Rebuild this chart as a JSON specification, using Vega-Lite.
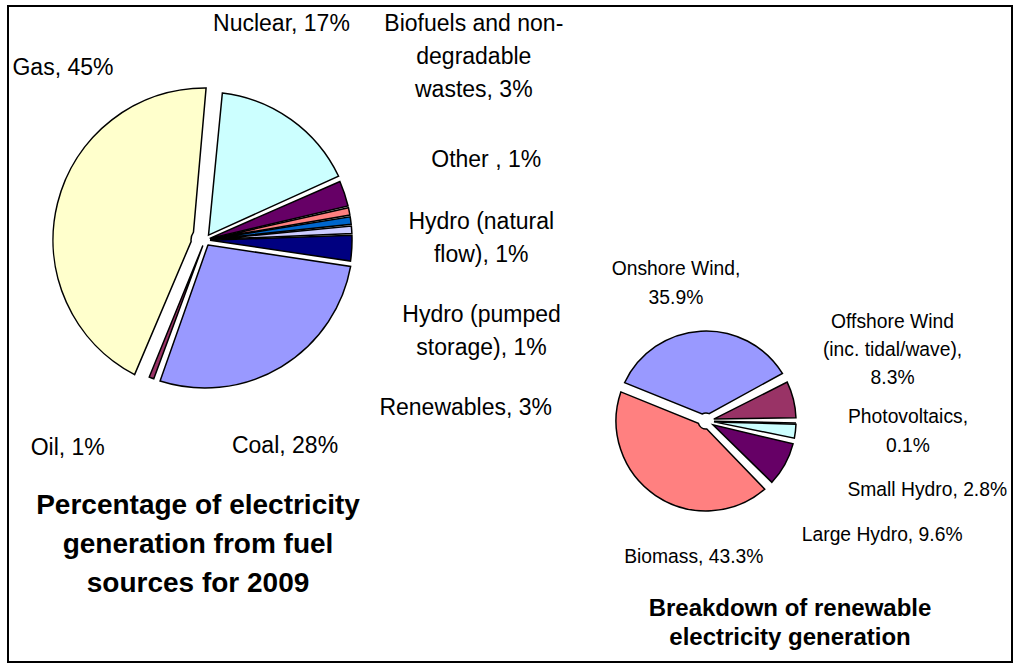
{
  "$schema": "https://vega.github.io/schema/vega-lite/v6.json",
  "width": 1004,
  "height": 656,
  "autosize": {"type": "none"},
  "padding": {"left": 8, "top": 6, "right": 6, "bottom": 6},
  "background": "white",
  "config": {
    "view": {"stroke": "black", "strokeWidth": 2},
    "font": "Liberation Sans",
    "text": {"font": "Liberation Sans", "fill": "black", "align": "center", "baseline": "middle", "lineBreak": "\n"}
  },
  "datasets": {
    "slices": [
      {"chart": "fuel", "idx": 1, "name": "Nuclear", "value": 17, "label": "Nuclear, 17%"},
      {"chart": "fuel", "idx": 2, "name": "Biofuels", "value": 3, "label": "Biofuels and non-\ndegradable\nwastes, 3%"},
      {"chart": "fuel", "idx": 3, "name": "Other", "value": 1, "label": "Other , 1%"},
      {"chart": "fuel", "idx": 4, "name": "Hydro natural", "value": 1, "label": "Hydro (natural\nflow), 1%"},
      {"chart": "fuel", "idx": 5, "name": "Hydro pumped", "value": 1, "label": "Hydro (pumped\nstorage), 1%"},
      {"chart": "fuel", "idx": 6, "name": "Renewables", "value": 3, "label": "Renewables, 3%"},
      {"chart": "fuel", "idx": 7, "name": "Coal", "value": 28, "label": "Coal, 28%"},
      {"chart": "fuel", "idx": 8, "name": "Oil", "value": 1, "label": "Oil, 1%"},
      {"chart": "fuel", "idx": 9, "name": "Gas", "value": 45, "label": "Gas, 45%"},
      {"chart": "renewables", "idx": 1, "name": "Onshore Wind", "value": 35.9, "label": "Onshore Wind,\n35.9%"},
      {"chart": "renewables", "idx": 2, "name": "Offshore Wind", "value": 8.3, "label": "Offshore Wind\n(inc. tidal/wave),\n8.3%"},
      {"chart": "renewables", "idx": 3, "name": "Photovoltaics", "value": 0.1, "label": "Photovoltaics,\n0.1%"},
      {"chart": "renewables", "idx": 4, "name": "Small Hydro", "value": 2.8, "label": "Small Hydro, 2.8%"},
      {"chart": "renewables", "idx": 5, "name": "Large Hydro", "value": 9.6, "label": "Large Hydro, 9.6%"},
      {"chart": "renewables", "idx": 6, "name": "Biomass", "value": 43.3, "label": "Biomass, 43.3%"}
    ],
    "titles": [
      {"chart": "fuel", "title": "Percentage of electricity\ngeneration from fuel\nsources for 2009"},
      {"chart": "renewables", "title": "Breakdown of renewable\nelectricity generation"}
    ]
  },
  "resolve": {"scale": {"theta": "independent"}},
  "layer": [
    {
      "data": {"name": "slices"},
      "transform": [{"filter": "datum.chart === 'fuel'"}],
      "encoding": {
        "x": {"field": "chart", "type": "nominal", "axis": null, "scale": {"type": "point", "domain": ["fuel", "renewables"], "padding": 0.502, "align": 0.3917}},
        "y": {"field": "chart", "type": "nominal", "axis": null, "scale": {"type": "band", "domain": ["fuel", "renewables"], "paddingInner": 0, "paddingOuter": 0.812, "align": 0.488}},
        "theta": {"field": "value", "type": "quantitative", "stack": true, "scale": {"type": "linear", "domain": [0, 100], "range": [0.0873, 6.3705]}},
        "order": {"field": "idx", "type": "quantitative"},
        "detail": {"field": "name", "type": "nominal"}
      },
      "layer": [
        {
          "mark": {"type": "arc", "radius": 148, "radius2": 6, "padAngle": 0.06, "stroke": "black", "strokeWidth": 1.5},
          "encoding": {
            "color": {"field": "name", "type": "nominal", "legend": null, "scale": {"domain": ["Nuclear", "Biofuels", "Other", "Hydro natural", "Hydro pumped", "Renewables", "Coal", "Oil", "Gas", "Onshore Wind", "Offshore Wind", "Photovoltaics", "Small Hydro", "Large Hydro", "Biomass"], "range": ["#CCFFFF", "#660066", "#FF8080", "#0066CC", "#CCCCFF", "#000080", "#9999FF", "#993366", "#FFFFCC", "#9999FF", "#993366", "#FFFFCC", "#CCFFFF", "#660066", "#FF8080"]}},
            "opacity": {"condition": {"test": "datum.name === 'Nuclear' || datum.name === 'Coal'", "value": 1}, "value": 0}
          }
        },
        {
          "mark": {"type": "arc", "radius": 147, "radius2": 5, "padAngle": 0.012, "stroke": "black", "strokeWidth": 1.5},
          "encoding": {
            "color": {"field": "name", "type": "nominal", "legend": null},
            "opacity": {"condition": {"test": "indexof(['Biofuels','Other','Hydro natural','Hydro pumped','Renewables'], datum.name) >= 0", "value": 1}, "value": 0}
          }
        },
        {
          "mark": {"type": "arc", "radius": 148, "radius2": 6, "padAngle": 0.03, "stroke": "black", "strokeWidth": 1.5},
          "encoding": {
            "color": {"field": "name", "type": "nominal", "legend": null},
            "opacity": {"condition": {"test": "datum.name === 'Oil'", "value": 1}, "value": 0}
          }
        },
        {
          "mark": {"type": "arc", "radius": 152, "radius2": 14, "padAngle": 0.16, "stroke": "black", "strokeWidth": 1.5},
          "encoding": {
            "color": {"field": "name", "type": "nominal", "legend": null},
            "opacity": {"condition": {"test": "datum.name === 'Gas'", "value": 1}, "value": 0}
          }
        },
        {"mark": {"type": "text", "radius": 200, "dx": -40, "dy": -53, "fontSize": 23}, "encoding": {"text": {"condition": {"test": "datum.name === 'Nuclear'", "field": "label"}, "value": ""}}},
        {"mark": {"type": "text", "radius": 200, "dx": 79, "dy": -153, "fontSize": 23, "lineHeight": 33}, "encoding": {"text": {"condition": {"test": "datum.name === 'Biofuels'", "field": "label"}, "value": ""}}},
        {"mark": {"type": "text", "radius": 200, "dx": 85, "dy": -41, "fontSize": 23}, "encoding": {"text": {"condition": {"test": "datum.name === 'Other'", "field": "label"}, "value": ""}}},
        {"mark": {"type": "text", "radius": 200, "dx": 78, "dy": 8.5, "fontSize": 23, "lineHeight": 33}, "encoding": {"text": {"condition": {"test": "datum.name === 'Hydro natural'", "field": "label"}, "value": ""}}},
        {"mark": {"type": "text", "radius": 200, "dx": 77, "dy": 88.5, "fontSize": 23, "lineHeight": 33}, "encoding": {"text": {"condition": {"test": "datum.name === 'Hydro pumped'", "field": "label"}, "value": ""}}},
        {"mark": {"type": "text", "radius": 200, "dx": 61, "dy": 157, "fontSize": 23}, "encoding": {"text": {"condition": {"test": "datum.name === 'Renewables'", "field": "label"}, "value": ""}}},
        {"mark": {"type": "text", "radius": 200, "dx": -23, "dy": 35, "fontSize": 23}, "encoding": {"text": {"condition": {"test": "datum.name === 'Coal'", "field": "label"}, "value": ""}}},
        {"mark": {"type": "text", "radius": 200, "dx": -65, "dy": 22, "fontSize": 23}, "encoding": {"text": {"condition": {"test": "datum.name === 'Oil'", "field": "label"}, "value": ""}}},
        {"mark": {"type": "text", "radius": 200, "dx": 52, "dy": -124, "fontSize": 23}, "encoding": {"text": {"condition": {"test": "datum.name === 'Gas'", "field": "label"}, "value": ""}}}
      ]
    },
    {
      "data": {"name": "slices"},
      "transform": [{"filter": "datum.chart === 'renewables'"}],
      "encoding": {
        "x": {"field": "chart", "type": "nominal", "axis": null},
        "y": {"field": "chart", "type": "nominal", "axis": null},
        "theta": {"field": "value", "type": "quantitative", "stack": true, "scale": {"type": "linear", "domain": [0, 100], "range": [-1.1868, 5.0964]}},
        "order": {"field": "idx", "type": "quantitative"},
        "detail": {"field": "name", "type": "nominal"}
      },
      "layer": [
        {
          "mark": {"type": "arc", "radius": 90, "radius2": 8, "padAngle": 0.11, "stroke": "black", "strokeWidth": 1.5},
          "encoding": {
            "color": {"field": "name", "type": "nominal", "legend": null},
            "opacity": {"condition": {"test": "indexof(['Onshore Wind','Offshore Wind','Large Hydro','Biomass'], datum.name) >= 0", "value": 1}, "value": 0}
          }
        },
        {
          "mark": {"type": "arc", "radius": 90, "radius2": 8, "padAngle": 0.02, "stroke": "black", "strokeWidth": 1.5},
          "encoding": {
            "color": {"field": "name", "type": "nominal", "legend": null},
            "opacity": {"condition": {"test": "indexof(['Photovoltaics','Small Hydro'], datum.name) >= 0", "value": 1}, "value": 0}
          }
        },
        {"mark": {"type": "text", "radius": 120, "dx": -23, "dy": -32.5, "fontSize": 19.3, "lineHeight": 29}, "encoding": {"text": {"condition": {"test": "datum.name === 'Onshore Wind'", "field": "label"}, "value": ""}}},
        {"mark": {"type": "text", "radius": 120, "dx": 70, "dy": -70, "fontSize": 19.3, "lineHeight": 28}, "encoding": {"text": {"condition": {"test": "datum.name === 'Offshore Wind'", "field": "label"}, "value": ""}}},
        {"mark": {"type": "text", "radius": 120, "dx": 82, "dy": -6.5, "fontSize": 19.3, "lineHeight": 29}, "encoding": {"text": {"condition": {"test": "datum.name === 'Photovoltaics'", "field": "label"}, "value": ""}}},
        {"mark": {"type": "text", "radius": 120, "dx": 102, "dy": 55, "fontSize": 19.3}, "encoding": {"text": {"condition": {"test": "datum.name === 'Small Hydro'", "field": "label"}, "value": ""}}},
        {"mark": {"type": "text", "radius": 120, "dx": 71, "dy": 56, "fontSize": 19.3}, "encoding": {"text": {"condition": {"test": "datum.name === 'Large Hydro'", "field": "label"}, "value": ""}}},
        {"mark": {"type": "text", "radius": 120, "dx": 55, "dy": 37, "fontSize": 19.3}, "encoding": {"text": {"condition": {"test": "datum.name === 'Biomass'", "field": "label"}, "value": ""}}}
      ]
    },
    {
      "data": {"name": "titles"},
      "transform": [{"filter": "datum.chart === 'fuel'"}],
      "mark": {"type": "text", "dx": -7, "dy": 266, "fontSize": 28, "fontWeight": "bold", "lineHeight": 39},
      "encoding": {
        "x": {"field": "chart", "type": "nominal", "axis": null},
        "y": {"field": "chart", "type": "nominal", "axis": null},
        "text": {"field": "title"}
      }
    },
    {
      "data": {"name": "titles"},
      "transform": [{"filter": "datum.chart === 'renewables'"}],
      "mark": {"type": "text", "dx": 84, "dy": 188.5, "fontSize": 24, "fontWeight": "bold", "lineHeight": 29},
      "encoding": {
        "x": {"field": "chart", "type": "nominal", "axis": null},
        "y": {"field": "chart", "type": "nominal", "axis": null},
        "text": {"field": "title"}
      }
    }
  ]
}
